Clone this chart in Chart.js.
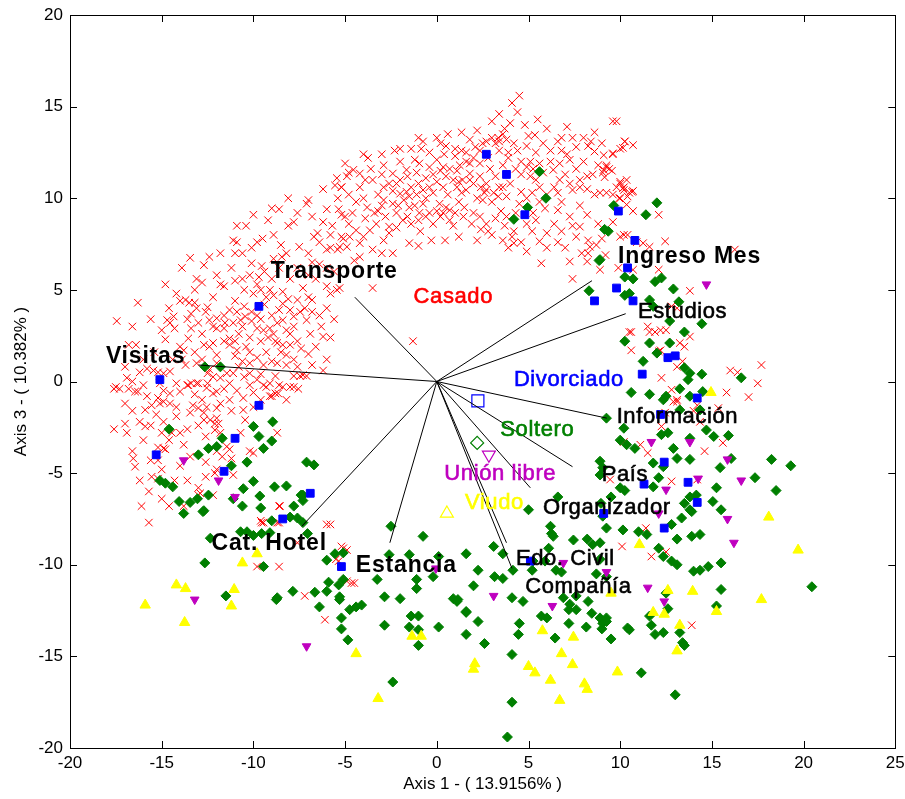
<!DOCTYPE html>
<html>
<head>
<meta charset="utf-8">
<script src="https://cdn.jsdelivr.net/npm/chart.js@4.4.0/dist/chart.umd.min.js"></script>
<style>
html,body{margin:0;padding:0;background:#fff}
#wrap{width:905px;height:799px}
</style>
</head>
<body>
<div id="wrap"><canvas id="c"></canvas></div>
<script>
// group scores (Axis 1, Axis 3)
const casado = [
[-4.8,11.4],[-5.45,11.1],[-5.55,10.7],[-5.2,10.6],[-6.2,10.5],[-5.4,10.0],[-5.35,9.4],[-5.2,9.1],[-8.1,10.0],[-7.0,9.9],
[-7.1,9.7],[-9.0,9.45],[-10.0,9.1],[-7.8,8.7],[-8.1,8.5],[-6.2,8.7],[-5.7,8.5],[-10.9,8.5],[-10.4,8.5],[-6.5,8.1],
[-6.7,7.9],[-5.2,7.9],[-8.9,8.0],[-9.5,7.8],[-11.1,7.7],[-10.9,7.6],[-8.5,7.45],[-7.5,7.35],[-10.1,7.3],[-11.0,7.0],
[-5.8,7.3],[-5.4,7.2],[-8.9,6.7],[-8.45,6.8],[-13.45,6.75],[-10.1,6.45],[-9.55,6.3],[-12.7,6.35],[-6.8,6.5],[-6.4,6.4],
[-13.1,5.6],[-10.2,5.8],[-9.7,5.7],[-14.8,5.3],[-11.8,5.3],[-11.6,5.2],[-11.0,5.5],[-10.5,5.0],[-9.8,5.3],[-9.6,5.0],
[-9.1,5.0],[-8.9,4.7],[-9.3,4.6],[-8.4,4.9],[-8.1,4.5],[-7.6,4.45],[-7.3,5.1],[-7.0,4.6],[-6.0,5.2],[-5.45,5.0],
[-5.8,4.8],[-14.0,4.4],[-13.7,4.45],[-13.5,4.3],[-13.2,4.3],[-13.1,4.0],[-12.5,4.05],[-16.3,4.3],[-11.3,3.9],[-10.9,3.8],
[-10.5,4.1],[-10.1,3.8],[-9.8,3.6],[-8.4,4.25],[-8.0,3.9],[-7.45,3.8],[-7.8,3.55],[-6.8,4.45],[-17.45,3.3],[-14.7,3.35],
[-14.55,3.2],[-14.3,2.9],[-14.35,3.55],[-13.4,3.7],[-13.0,3.2],[-12.4,3.35],[-12.0,3.45],[-12.0,2.9],[-11.6,2.9],[-11.55,3.2],
[-11.1,3.2],[-10.7,3.35],[-10.45,3.55],[-10.1,3.3],[-9.45,2.8],[-9.1,2.9],[-8.9,2.6],[-8.7,3.2],[-8.4,3.35],[-8.2,2.8],
[-7.1,3.35],[-6.9,2.6],[-6.3,3.0],[-6.2,2.45],[-16.8,2.0],[-16.4,2.0],[-14.0,1.9],[-13.8,1.7],[-13.55,2.35],[-12.7,2.0],
[-12.4,1.9],[-12.2,2.1],[-12.0,1.45],[-11.3,2.35],[-11.3,2.0],[-10.9,1.7],[-10.4,1.9],[-9.6,2.2],[-9.3,1.6],[-8.7,2.1],
[-8.5,1.6],[-8.2,1.45],[-8.0,2.0],[-7.6,0.8],[-7.3,0.35],[-15.8,0.7],[-15.45,0.6],[-15.2,0.5],[-14.9,0.45],[-14.55,0.55],
[-16.9,0.2],[-16.6,0.0],[-17.5,-0.3],[-14.2,-0.1],[-13.6,-0.2],[-13.4,-0.1],[-13.0,-0.1],[-12.5,0.45],[-12.2,0.25],[-12.5,-0.1],
[-11.8,0.2],[-11.45,0.45],[-11.1,0.45],[-10.5,0.25],[-10.2,0.45],[-9.8,0.1],[-9.1,-0.1],[-8.4,-0.3],[-8.0,-0.3],[-7.45,0.3],
[-7.1,0.3],[-13.1,1.0],[-12.4,0.65],[-13.7,0.9],[-10.2,1.0],[-9.45,0.9],[-8.7,1.0],
[-17.6,-0.4],[-17.3,-0.4],[-16.8,-0.4],[-16.45,-0.55],[-16.3,-0.55],[-15.1,-0.1],[-14.55,-0.65],[-14.0,-0.55],[-13.55,-0.2],[-13.1,-0.1],
[-12.55,-0.35],[-12.2,-0.65],[-12.0,-0.55],[-11.3,-0.1],[-11.3,-1.0],[-10.55,-0.9],[-10.2,-0.2],[-9.45,-0.2],[-9.3,-0.3],[-9.1,-0.8],
[-8.8,-0.65],[-8.65,-0.65],[-7.8,-0.3],[-7.55,-0.4],[-15.9,-1.55],[-15.55,-1.3],[-15.3,-1.8],[-15.1,-1.2],[-14.9,-1.1],[-14.55,-1.2],
[-14.2,-1.4],[-13.45,-1.7],[-13.3,-1.3],[-13.0,-1.45],[-12.7,-1.7],[-12.55,-1.4],[-12.0,-1.45],[-12.7,-2.1],[-12.35,-2.1],[-12.1,-2.3],
[-11.9,-2.3],[-10.55,-1.55],[-10.45,-2.1],[-9.0,-0.8],[-8.7,-2.8],[-17.6,-2.6],[-17.0,-2.3],[-16.9,-2.8],[-15.9,-2.45],[-15.6,-2.4],
[-15.0,-2.8],[-14.45,-2.8],[-14.0,-2.8],[-16.6,-3.8],[-16.55,-4.2],[-16.45,-4.65],[-15.6,-4.3],[-15.2,-4.3],[-14.9,-3.65],[-14.8,-3.7],
[-13.8,-3.45],[-13.45,-4.1],[-12.0,-3.8],[-11.7,-4.1],[-11.45,-3.55],[-11.3,-3.7],[-11.2,-4.2],[-11.1,-5.1],[-12.1,-2.65],[-12.0,-4.8],
[-12.1,-5.0],[-10.7,-2.8],[-10.2,-3.8],[-10.0,-3.9],[-15.55,-5.2],[-15.2,-5.3],[-14.3,-5.4],[-15.7,-6.0],[-13.0,-5.8],[-13.0,-6.2],
[-13.8,-6.8],[-15.7,-7.7],[-9.55,-7.7],[-9.45,-7.7],[-8.6,-7.7],[-8.55,-6.8],[-6.0,-7.8],[-5.8,-7.8],[-9.8,-10.1],[-8.6,-10.1],
[-7.2,-11.7],[-6.1,-13.0],[-5.35,-9.8],[-5.1,-9.1],[-4.9,-10.9],[-7.6,-8.8],[-12.9,-6.1],[-8.6,-6.8],[-9.6,-7.6],[-8.7,-7.7],
[-5.2,-9.0],[-4.9,-9.2],[-5.5,-9.7],[-4.65,-11.0],[-4.5,-11.0],
[4.5,15.6],[4.1,15.2],[4.4,14.7],[4.0,14.1],[3.7,13.8],[3.6,13.5],[3.35,13.3],[4.8,14.0],[5.5,14.3],[7.1,13.9],
[5.35,13.45],[1.35,13.6],[2.7,13.1],[3.0,13.3],[3.2,13.0],[3.4,13.1],[3.8,13.2],[0.0,13.3],[0.2,13.0],[-0.75,13.1],
[-0.85,12.7],[-1.4,12.7],[-2.3,12.6],[-3.75,12.2],[0.5,12.85],[1.0,12.7],[1.35,12.6],[1.6,12.5],[2.1,12.8],[2.35,12.6],
[2.5,13.0],[3.9,12.5],[4.4,12.6],[4.9,12.85],[5.4,12.5],[6.6,13.1],[6.8,13.3],[8.6,13.6],[9.6,14.2],[9.8,14.2],
[10.25,13.1],[10.0,12.7],[9.6,12.45],[9.1,12.35],[8.4,13.1],[8.25,12.85],[8.6,12.55],[7.1,12.4],[7.25,12.1],[6.7,11.9],
[6.2,12.0],[5.1,12.0],[4.9,11.7],[5.25,11.6],[5.6,11.9],[6.35,11.55],[4.6,11.3],[5.1,11.2],[5.4,11.0],[5.6,10.6],
[5.2,10.3],[4.6,10.35],[4.9,10.0],[6.7,11.0],[7.25,10.8],[7.8,10.6],[7.4,10.45],[8.2,10.5],[8.2,11.2],[8.5,11.3],
[9.1,11.55],[9.25,11.8],[9.4,11.6],[9.8,10.6],[10.2,10.45],[10.35,11.0],[9.95,10.0],[10.4,10.1],[5.9,9.45],[6.6,9.35],
[7.25,9.0],[7.4,8.5],[7.8,8.45],[8.2,9.1],[8.25,7.7],[8.35,7.35],[8.25,7.0],[8.7,7.45],[8.2,6.55],[8.9,6.1],
[7.4,5.6],[7.25,6.55],[6.0,7.3],[6.0,8.1],[5.6,7.65],[5.7,6.45],[9.2,6.9],[4.2,8.2],[4.1,7.9],[4.2,7.55],
[3.7,8.5],[3.8,9.0],[5.25,9.2],[5.4,8.8],[4.9,8.6],[4.5,9.7],[3.8,10.1],[3.6,10.6],[3.35,10.1],[2.5,9.9],
[2.8,8.2],[2.7,8.6],[2.35,9.0],[2.0,9.2],[1.45,9.0],[1.0,9.2],[0.7,8.8],[0.2,9.0],[0.0,9.3],[-0.6,9.0],
[-0.95,9.2],[-1.5,7.55],[-1.6,9.0],[0.45,7.7],[-2.4,7.0],[-3.0,7.0],[-3.5,7.2],[-4.5,6.6],[-4.2,6.8],[-3.5,5.1],
[-5.3,5.1],[-1.3,2.2],
[-2.4,9.7],[-2.1,9.6],[-1.65,10.35],[-1.5,10.1],[-1.1,10.2],[-0.75,10.45],[-0.4,10.6],[0.0,10.9],[0.35,10.6],[0.5,11.2],
[0.9,11.0],[1.1,10.6],[1.35,10.3],[1.6,10.45],[1.8,11.0],[2.0,10.8],[2.35,11.2],[2.7,10.8],[2.7,10.45],[3.1,10.3],
[3.4,10.6],[0.5,9.5],[0.35,9.2],[0.7,9.35],[-0.75,9.7],[-1.0,8.8],[-0.4,9.2],[0.15,9.7],[-1.5,9.5],[-1.85,8.8],
[-2.6,8.45],[-3.3,8.6],[-3.65,8.25],[-4.0,7.9],[-4.4,8.25],[-4.75,7.9],[-5.1,7.8],[-5.3,7.35],[-4.9,7.35],[-4.2,7.55],
[-2.9,7.7],[-2.6,8.1],[-3.4,9.2],[-2.9,9.9],[-2.9,10.6],[-3.5,11.0],[-4.2,11.35],[-4.55,11.55],[-4.9,11.2],[-5.2,10.6],
[-2.0,11.0],[-1.1,11.4],[-0.4,11.7],[0.35,11.7],[1.25,11.8],[1.8,11.9],[2.35,11.9],[1.8,11.35],[1.1,11.5],[0.0,12.1],
[-0.95,11.9],[-1.65,11.55],[-2.4,11.35],[-2.6,10.8],[-2.0,10.25],
[10.0,10.8],[10.2,10.6],[9.25,10.3],[9.6,10.2],[10.5,10.3],[10.7,10.4],[10.0,10.0],[10.35,9.65],[10.7,9.3],[12.1,9.1],
[9.6,8.7],[10.2,8.0],[10.0,7.9],[10.4,8.0],[10.9,7.6],[11.25,7.55],[11.6,7.35],[12.45,7.65],[16.25,7.2],[12.1,6.1],
[9.9,6.2],[10.7,6.1],[13.8,4.95],[12.8,4.1],[13.1,4.0],[11.5,3.0],[11.6,2.7],[11.9,2.7],[12.2,2.8],[12.5,2.8],
[10.6,2.7],[10.6,1.7],[13.25,2.1],[13.5,1.9],[13.8,2.45],[12.1,1.65],[13.4,1.1],[13.1,0.8],[12.25,0.2],[16.0,0.6],
[16.4,0.5],[17.7,0.9],[17.5,-0.1],[15.8,-0.6],[17.0,-0.85],[12.8,-0.45],[13.1,-1.0],[12.45,-1.7],[14.0,-1.6],[15.35,-1.45],
[13.1,-1.1],[14.2,-1.3],[12.25,-2.45],[14.35,-2.2],[10.2,-3.3],[11.1,-3.45],[11.5,-3.9],[14.6,-3.8],[15.6,-3.35],[9.45,-5.35],
[12.8,-5.45],[14.2,-5.35],[11.4,-8.0],[10.1,-9.0],[11.7,-9.55],[12.5,-9.3],[13.9,-13.3],[10.5,2.7],[12.2,1.7],[12.9,-1.1],
[10.25,13.1],[10.7,12.9],[10.15,12.75],[9.6,12.4],[9.25,11.7],[9.05,11.4],[9.55,11.5],[9.15,11.15],[10.0,10.9],[10.15,10.55],
[10.65,10.35],[8.9,10.3],
[-3.2,9.3],[-2.8,9.0],[-2.2,9.2],[-1.8,9.9],[-1.2,9.6],[-0.6,10.0],[-0.2,10.3],[0.6,10.2],[1.2,9.8],[1.5,9.5],
[2.2,10.0],[2.6,10.3],[3.0,9.8],[3.2,11.2],[2.9,11.6],[2.0,12.2],[1.0,12.3],[0.4,12.4],[-0.4,12.5],[-1.2,12.1],
[-2.0,12.0],[-2.9,11.8],[-3.6,11.6],[-4.2,10.6],[-4.0,10.0],[-3.8,9.5],[-4.6,9.2],[-5.0,9.0],[-4.4,9.8],[-1.0,10.8],
[-0.2,11.3],[0.7,11.6],[1.4,11.0],[2.4,10.6],[-2.4,10.4],[-3.2,10.2],[-1.6,11.2],[3.6,11.8],[3.9,12.2],[4.3,11.6],
[4.6,12.0],[4.0,10.8],[4.3,9.2],[3.5,9.3],[6.0,10.2],[6.4,10.6],[7.0,11.3],[7.6,11.6],[8.0,12.0],[7.6,12.8],
[6.2,12.6],[5.8,11.4],[6.8,9.8],[7.8,9.6],[8.6,10.2],[8.8,8.6],[9.0,7.8],[7.6,7.9],[6.6,7.6],[6.4,8.6],
[-10.8,2.6],[-10.2,2.4],[-9.8,2.9],[-9.6,3.4],[-9.0,3.6],[-8.8,2.2],[-8.0,2.6],[-7.6,2.2],[-7.4,1.8],[-7.0,1.5],
[-6.6,1.9],[-6.8,3.8],[-7.2,4.0],[-6.4,3.6],[-6.0,4.0],[-5.6,3.4],[-5.8,2.4],[-6.0,1.2],[-11.6,2.2],[-11.0,1.4],
[-10.6,1.1],[-9.8,1.3],[-9.0,1.1],[-8.2,0.9],[-12.8,2.6],[-13.4,2.9],[-12.2,3.0],[-14.8,2.3],[-15.4,1.6],[-16.0,1.2],
[-13.9,1.2],[-12.8,1.2],[-11.6,-0.4],[-10.8,0.8],[-9.6,0.4],[-8.8,0.3],[-15.8,-0.8],[-14.9,-0.5],[-16.2,0.5],[-17.0,0.8],
[-13.0,-2.4],[-12.6,-3.0],[-13.6,-2.6],[-14.6,-3.2],[-15.2,-3.6],[-16.0,-3.2],[-12.0,-2.0],[-11.2,-1.6],[-10.0,-1.4],[-9.6,-1.0],
[-8.2,-1.0],[-14.0,-4.6],[-16.2,-5.4],[-15.0,-6.4],[-12.6,-4.4],[-13.2,5.0],[-12.2,4.6],[-11.0,4.4],[-10.0,4.8],[-12.0,5.8],
[-11.2,6.2],[-9.4,6.0],[-8.0,5.6],[-7.6,6.2],[-6.6,5.6],[-6.0,6.2],[-5.6,6.0],[-7.0,7.0],[-6.4,7.6],[-8.2,7.0],
[-7.6,9.2],[-6.8,9.0],[-6.0,9.4],[-5.8,8.0],[-6.0,7.2],[-4.8,8.6],[-3.9,8.9],[-3.0,9.6],[-2.2,8.4],[-1.4,8.6],
[-0.9,8.2],[-0.2,8.6],[0.9,8.5],[1.9,8.6],[2.4,8.3],[3.2,8.9],[3.0,8.0],[3.6,7.7],[1.2,10.9],[0.2,11.5],
[-0.6,11.1],[-1.4,10.6],[-2.2,10.8],[-3.0,11.3],[-3.9,11.0],[-4.8,10.2],[-5.0,11.9],[-4.0,12.4],[-3.0,12.4],[-2.0,12.7],
[-1.0,13.3],[0.6,13.5],[1.8,13.2],[2.2,13.7],[3.0,14.2],[3.4,14.6],[1.6,12.0],[2.8,12.2],[3.4,12.6],[4.2,13.0],
[5.0,13.4],[5.8,13.0],[6.0,13.8],[6.8,12.6],[7.4,13.3],[8.0,13.3],[9.0,13.0],[8.8,11.8],[7.8,11.0],[6.6,10.3],
[5.6,9.8],[5.2,8.2],[6.8,8.2],[7.9,7.0],[7.0,7.3],[4.6,7.6],[4.9,7.1],[3.9,7.3],[2.2,7.7],[1.2,7.9],
[-0.3,7.7],[-1.0,7.4],
[-14.4,1.2],[-13.2,1.6],[-12.0,1.0],[-11.0,2.2],[-10.2,1.6],[-9.2,2.4],[-8.4,2.0],[-7.8,1.2],[-6.8,0.9],[-6.2,0.6],
[-7.8,3.0],[-8.6,3.9],[-9.4,4.2],[-10.6,3.0],[-11.6,3.6],[-12.6,3.8],[-13.6,3.4],[-14.2,4.8],[-12.8,5.4],[-10.6,5.6],
[-9.0,5.6],[-8.6,6.2],[-7.0,5.8],[-10.6,7.0],[-9.8,7.6],[-9.2,8.8],[-8.6,9.4],[-11.8,7.0],[-12.4,6.8],[-13.9,6.2],
[-14.6,4.0],[-15.6,3.4],[-15.0,2.8],[-16.6,3.0],[-16.0,-0.2],[-15.2,-0.9],[-14.2,-1.9],[-13.2,-0.7],[-12.8,-1.0],[-11.8,-1.2],
[-10.9,-0.5],[-10.0,-0.6],[-8.6,-0.2],[-7.8,0.3],[-14.9,-2.2],[-16.6,-1.6],[-17.0,-1.2],[-16.2,-2.2],[-15.0,-4.8],[-13.6,-5.4],
[-12.6,-5.2],[-12.2,-6.2],[-14.6,-6.8],[-16.1,-6.8],[-11.8,-2.8]
];

const soltero = [
[5.6,11.45],[5.95,10.0],[4.95,9.5],[4.2,8.85],[9.65,9.6],[9.15,8.3],[9.35,8.2],[8.85,6.6],[8.3,4.95],[10.25,5.7],
[10.25,4.7],[10.5,4.8],[10.25,2.2],[12.0,9.75],[11.4,9.1],[8.9,6.65],[10.7,5.6],[11.9,5.45],[12.25,5.65],[12.9,5.05],
[11.6,4.45],[13.2,4.35],[11.8,4.1],[12.7,3.3],[14.45,3.15],[13.5,2.7],[11.6,2.1],[12.7,2.1],[12.0,1.55],[11.25,1.1],
[13.5,0.75],[13.8,0.45],[13.7,0.1],[14.45,0.4],[16.6,0.2],[10.6,-0.6],[11.6,-0.7],[13.25,-0.4],[12.35,-1.0],[12.5,-0.8],
[13.8,-0.8],[14.5,-0.55],[10.2,-2.55],[9.25,-2.0],[13.25,-1.55],[14.35,-1.55],
[12.25,-2.9],[12.6,-2.8],[13.8,-3.1],[15.1,-3.0],[15.9,-2.95],[14.7,-2.65],[10.0,-3.2],[10.35,-3.45],[10.8,-3.65],[12.9,-3.65],
[13.1,-4.2],[13.8,-4.25],[16.05,-4.2],[18.25,-4.25],[19.3,-4.6],[11.8,-4.45],[12.35,-4.65],[15.45,-4.7],[8.9,-4.35],[9.05,-4.7],
[12.1,-5.25],[17.35,-5.25],[15.25,-5.8],[18.5,-5.95],[10.0,-5.8],[10.25,-5.95],[11.8,-5.75],[13.8,-6.3],[14.15,-6.2],[13.5,-6.65],
[13.8,-7.0],[13.9,-7.1],[15.05,-6.55],[15.5,-7.0],[9.5,-6.3],[8.95,-6.65],[9.05,-7.35],[13.35,-7.45],[12.8,-7.8],[9.25,-8.0],
[10.15,-8.1],[11.0,-8.2],[11.45,-8.35],[13.1,-8.6],[13.9,-8.45],[14.35,-8.35],[8.9,-8.8],[8.9,-9.7],[12.1,-9.1],[12.35,-9.55],
[12.8,-9.8],[13.1,-10.0],[14.0,-10.35],[14.35,-10.3],[14.8,-10.1],[15.5,-9.9],[20.45,-11.2],[15.5,-11.35],[12.5,-11.55],[12.6,-12.4],
[15.25,-12.25],[11.6,-12.8],[11.7,-13.3],[8.9,-12.9],[9.05,-13.2],[9.25,-13.1],[10.5,-13.55],[9.5,-14.05],[11.9,-13.8],[12.35,-13.7],
[13.25,-13.7],[13.4,-14.25],[13.5,-14.4],[11.15,-15.9],[13.0,-17.1],
[8.9,-5.1],[6.6,-6.3],[5.0,-7.0],[6.25,-8.3],[6.35,-8.45],[6.1,-9.1],[7.45,-8.65],[8.2,-8.6],[8.5,-8.9],[3.1,-9.0],
[3.6,-9.4],[4.15,-10.3],[5.2,-10.3],[6.5,-10.3],[6.8,-10.4],[8.7,-10.5],[9.25,-10.65],[1.6,-9.4],[-0.75,-8.45],[-2.5,-7.9],
[-2.6,-9.45],[-1.5,-9.45],[-1.1,-10.8],[-1.1,-11.3],[0.1,-9.55],[2.25,-10.3],[3.15,-10.65],[3.6,-10.75],[2.0,-11.15],[-3.25,-10.8],
[-2.85,-11.75],[-2.0,-11.85],[0.9,-11.85],[1.15,-11.9],[4.1,-11.8],[4.7,-12.0],[-5.1,-10.8],[-4.75,-12.45],[-4.4,-12.3],[-4.1,-12.2],
[-5.2,-12.9],[-5.2,-13.5],[-2.85,-13.3],[-1.4,-12.8],[-1.0,-12.8],[-1.5,-13.4],[-1.0,-13.55],[-1.0,-14.4],[0.1,-13.4],[1.6,-12.55],
[2.25,-13.1],[1.6,-13.8],[2.6,-14.3],[4.5,-13.2],[4.45,-13.8],[4.1,-14.9],[5.7,-12.8],[6.0,-12.9],[6.45,-14.0],[7.2,-13.2],
[7.6,-12.45],[8.15,-13.4],[8.45,-12.65],[9.25,-12.9],[9.0,-13.5],[6.9,-11.8],[7.25,-12.15],[7.2,-12.45],[7.6,-11.7],[-4.85,-14.1],
[-2.4,-16.4],[4.1,-17.5],[3.85,-19.4],[6.2,-7.9],[5.9,-9.8],[5.25,-9.8],[10.4,-13.45],[1.1,-12.0],[1.6,-12.6],[8.25,-12.0],
[-8.75,-11.9],[-6.4,-12.3],[-5.3,-11.9],[-6.0,-11.45],[-0.2,-10.65],
[-14.6,-2.6],[-13.0,-4.0],[-12.45,-3.65],[-12.0,-3.55],[-11.7,-3.1],[-10.0,-2.45],[-8.95,-2.2],[-9.7,-3.0],[-9.0,-3.25],[-9.45,-3.65],
[-10.35,-4.4],[-11.2,-4.6],[-7.1,-4.4],[-6.7,-4.55],[-15.1,-5.4],[-14.8,-5.55],[-14.4,-5.75],[-14.05,-6.55],[-13.8,-7.2],[-13.45,-6.6],
[-13.05,-6.4],[-12.7,-7.05],[-12.45,-6.2],[-10.55,-5.85],[-10.0,-5.45],[-11.1,-6.4],[-9.65,-6.25],[-9.6,-6.9],[-10.6,-6.8],[-8.85,-5.75],
[-8.2,-5.7],[-7.3,-6.2],[-7.3,-6.5],[-7.8,-6.8],[-9.0,-7.6],[-8.0,-7.4],[-7.6,-7.45],[-7.3,-7.7],[-7.05,-8.3],[-10.7,-8.2],
[-10.35,-8.2],[-10.0,-8.4],[-9.55,-8.3],[-9.1,-8.25],[-12.35,-8.55],[-12.65,-9.9],[-9.45,-10.1],[-6.0,-9.75],[-5.55,-9.4],[-5.1,-9.35],
[-5.9,-10.95],[-5.35,-11.1],[-5.3,-11.75],[-6.65,-11.5],[-7.85,-11.45],[-8.7,-11.8],[-11.5,-11.7],[-12.65,0.8],[-11.8,0.8],[-12.75,-7.1],
[-7.4,-6.2]
];

const divorciado = [
[2.7,12.4],[3.8,11.3],[4.8,9.1],[9.9,9.3],[10.8,7.7],[10.4,6.2],[9.8,5.1],[8.6,4.4],[10.7,4.4],[12.6,1.3],
[13.0,1.4],[11.2,0.4],[14.2,-0.9],[12.2,-1.8],[12.4,-4.4],[11.3,-5.6],[13.7,-5.5],[14.2,-6.6],[12.4,-8.0],[9.1,-7.2],
[5.1,-9.8],[-5.2,-10.1],[-8.4,-7.5],[-6.9,-6.1],[-11.6,-4.9],[-11.0,-3.1],[-15.3,-4.0],[-9.7,-1.3],[-15.1,0.1],[-9.7,4.1]
];

const unionLibre = [
[-13.8,-4.3],[-11.9,-5.4],[-11.0,-6.3],[-13.2,-11.9],[-7.1,-14.45],[-0.05,-10.2],[3.1,-11.7],[6.3,-12.25],[6.9,-9.9],[9.25,-10.4],
[11.7,-3.3],[13.8,-3.3],[15.85,-4.25],[14.25,-5.3],[16.6,-5.4],[12.5,-5.9],[12.1,-7.2],[15.85,-7.5],[16.2,-8.8],[11.5,-11.25],
[12.4,-12.0],[14.7,5.3]
];

const viudo = [
[-15.9,-12.2],[-13.75,-13.15],[-11.2,-12.25],[-4.4,-14.85],[-1.35,-13.9],[-0.85,-13.9],[-3.2,-17.3],[-9.8,-9.4],[-10.6,-9.9],[-14.2,-11.1],
[-13.7,-11.3],[-11.05,-11.35],[2.07,-15.4],[2.0,-15.7],[5.76,-13.6],[5.0,-15.55],[5.35,-15.9],[6.2,-16.3],[6.8,-14.85],[6.7,-17.4],
[7.4,-15.45],[7.45,-13.95],[8.05,-16.5],[8.2,-16.8],[9.85,-15.85],[9.5,-11.55],[11.8,-12.6],[12.4,-12.7],[13.25,-13.3],[13.1,-14.7],
[15.25,-12.55],[17.7,-11.9],[18.1,-7.4],[19.7,-9.2],[11.05,-8.9],[12.6,-11.4],[13.95,-11.45],[14.95,-0.6]
];

// group centroids (hollow markers) and their labels
const groups = ['Casado','Divorciado','Soltero','Unión libre','Viudo'];
const groupColors = ['#ff0000','#0000ff','#008000','#bf00bf','#ffff00'];
const groupLabelX = [0.9, 7.2, 5.48, 3.46, 3.14];
const groupLabelY = [4.62, 0.11, -2.64, -5.07, -6.6];
const centroidX = [2.24, 2.2, 2.84, 0.55];
const centroidY = [-1.06, -3.35, -4.0, -7.2];

// variable loadings (vector ends) and label anchors
const variables = ['Transporte','Ingreso Mes','Estudios','Visitas','Información','País','Organizador','Edo. Civil','Compañía','Estancia','Cat. Hotel'];
const loadX = [-4.47, 8.46, 10.3, -13.0, 9.27, 7.4, 5.1, 3.8, 4.1, -2.56, -7.36];
const loadY = [4.6, 5.5, 3.7, 0.9, -2.0, -4.65, -5.8, -8.8, -10.2, -8.8, -7.9];
const varLabelX = [-5.59, 13.78, 13.4, -15.88, 13.12, 10.26, 9.27, 7.01, 7.72, -1.66, -9.14];
const varLabelY = [5.98, 6.83, 3.77, 1.37, -1.96, -5.12, -6.9, -9.7, -11.23, -10.03, -8.83];
const varBold = [true, true, false, true, false, false, false, false, false, true, true];

const xTitle = 'Axis 1 - ( 13.9156% )';
const yTitle = 'Axis 3 - ( 10.382% )';

const FONT = '"Liberation Sans", Arial, Helvetica, sans-serif';
const toPts = arr => arr.map(([x, y]) => ({x, y}));

const datasets = [];
// biplot vectors on top
variables.forEach((v, i) => {
  datasets.push({
    label: v, showLine: true, data: [{x: 0, y: 0}, {x: loadX[i], y: loadY[i]}],
    borderColor: '#000', borderWidth: 1, pointRadius: 0, order: 0
  });
});
datasets.push({
  label: 'centroids', data: centroidX.map((x, i) => ({x, y: centroidY[i]})),
  pointStyle: ['rect', 'rectRot', 'triangle', 'triangle'],
  pointRotation: [0, 0, 180, 0],
  pointRadius: [8.5, 6.5, 7.5, 7.5],
  pointBorderColor: [groupColors[1], groupColors[2], groupColors[3], groupColors[4]],
  pointBackgroundColor: 'rgba(0,0,0,0)', pointBorderWidth: 1.2, order: 1
});
datasets.push({label: 'Viudo', data: toPts(viudo), pointStyle: 'triangle', pointRadius: 6,
  pointBackgroundColor: '#ffff00', pointBorderColor: '#ffff00', pointBorderWidth: 1, order: 2});
datasets.push({label: 'Unión libre', data: toPts(unionLibre), pointStyle: 'triangle', pointRotation: 180, pointRadius: 5,
  pointBackgroundColor: '#bf00bf', pointBorderColor: '#bf00bf', pointBorderWidth: 1, order: 3});
datasets.push({label: 'Divorciado', data: toPts(divorciado), pointStyle: 'rect', pointRadius: 5.5,
  pointBackgroundColor: '#0000ff', pointBorderColor: '#0000ff', pointBorderWidth: 1, order: 4});
datasets.push({label: 'Soltero', data: toPts(soltero), pointStyle: 'rectRot', pointRadius: 5,
  pointBackgroundColor: '#007f00', pointBorderColor: '#007f00', pointBorderWidth: 1, order: 5});
datasets.push({label: 'Casado', data: toPts(casado), pointStyle: 'crossRot', pointRadius: 5.3,
  pointBorderColor: '#ff0000', pointBackgroundColor: '#ff0000', pointBorderWidth: 1, order: 6});

const decor = {
  id: 'decor',
  afterDatasetsDraw(chart) {
    const {ctx, chartArea: a, scales: {x, y}} = chart;
    ctx.save();
    ctx.strokeStyle = '#000';
    ctx.lineWidth = 1;
    ctx.strokeRect(Math.round(a.left) + 0.5, Math.round(a.top) + 0.5, Math.round(a.right - a.left), Math.round(a.bottom - a.top));
    const tl = 7;
    ctx.beginPath();
    x.ticks.forEach(t => {
      const px = Math.round(x.getPixelForValue(t.value)) + 0.5;
      ctx.moveTo(px, a.bottom); ctx.lineTo(px, a.bottom - tl);
      ctx.moveTo(px, a.top); ctx.lineTo(px, a.top + tl);
    });
    y.ticks.forEach(t => {
      const py = Math.round(y.getPixelForValue(t.value)) + 0.5;
      ctx.moveTo(a.left, py); ctx.lineTo(a.left + tl, py);
      ctx.moveTo(a.right, py); ctx.lineTo(a.right - tl, py);
    });
    ctx.stroke();

    ctx.fillStyle = '#000';
    ctx.font = '17px ' + FONT;
    ctx.textAlign = 'center'; ctx.textBaseline = 'middle';
    x.ticks.forEach(t => ctx.fillText(String(t.value), x.getPixelForValue(t.value), a.bottom + 15));
    ctx.textAlign = 'right';
    y.ticks.forEach(t => ctx.fillText(String(t.value), a.left - 7, y.getPixelForValue(t.value)));

    ctx.textAlign = 'center';
    ctx.fillText(xTitle, (a.left + a.right) / 2, a.bottom + 36);
    ctx.save();
    ctx.translate(21, (a.top + a.bottom) / 2);
    ctx.rotate(-Math.PI / 2);
    ctx.fillText(yTitle, 0, 0);
    ctx.restore();

    const label = (txt, px, py, color, bold) => {
      ctx.font = (bold ? 'bold 23px ' : '22px ') + FONT;
      ctx.letterSpacing = bold ? '0.8px' : '0.6px';
      ctx.fillStyle = color;
      ctx.fillText(txt, px, py);
      if (!bold) {
        ctx.strokeStyle = color;
        ctx.lineWidth = 0.6;
        ctx.strokeText(txt, px, py);
      }
    };
    variables.forEach((v, i) =>
      label(v, x.getPixelForValue(varLabelX[i]), y.getPixelForValue(varLabelY[i]), '#000', varBold[i]));
    groups.forEach((g, i) =>
      label(g, x.getPixelForValue(groupLabelX[i]), y.getPixelForValue(groupLabelY[i]), groupColors[i], false));
    ctx.restore();
  }
};

new Chart(document.getElementById('c'), {
  type: 'scatter',
  data: {datasets},
  options: {
    responsive: true, maintainAspectRatio: false, animation: false,
    events: [],
    layout: {padding: {top: 15, right: 9, left: 0, bottom: 0}},
    plugins: {legend: {display: false}, tooltip: {enabled: false}},
    scales: {
      x: {type: 'linear', min: -20, max: 25, ticks: {stepSize: 5, display: false},
          grid: {display: false, drawTicks: false}, border: {display: false},
          afterFit: s => { s.height = 51; }},
      y: {type: 'linear', min: -20, max: 20, ticks: {stepSize: 5, display: false},
          grid: {display: false, drawTicks: false}, border: {display: false},
          afterFit: s => { s.width = 70; }}
    }
  },
  plugins: [decor]
});
</script>
</body>
</html>
